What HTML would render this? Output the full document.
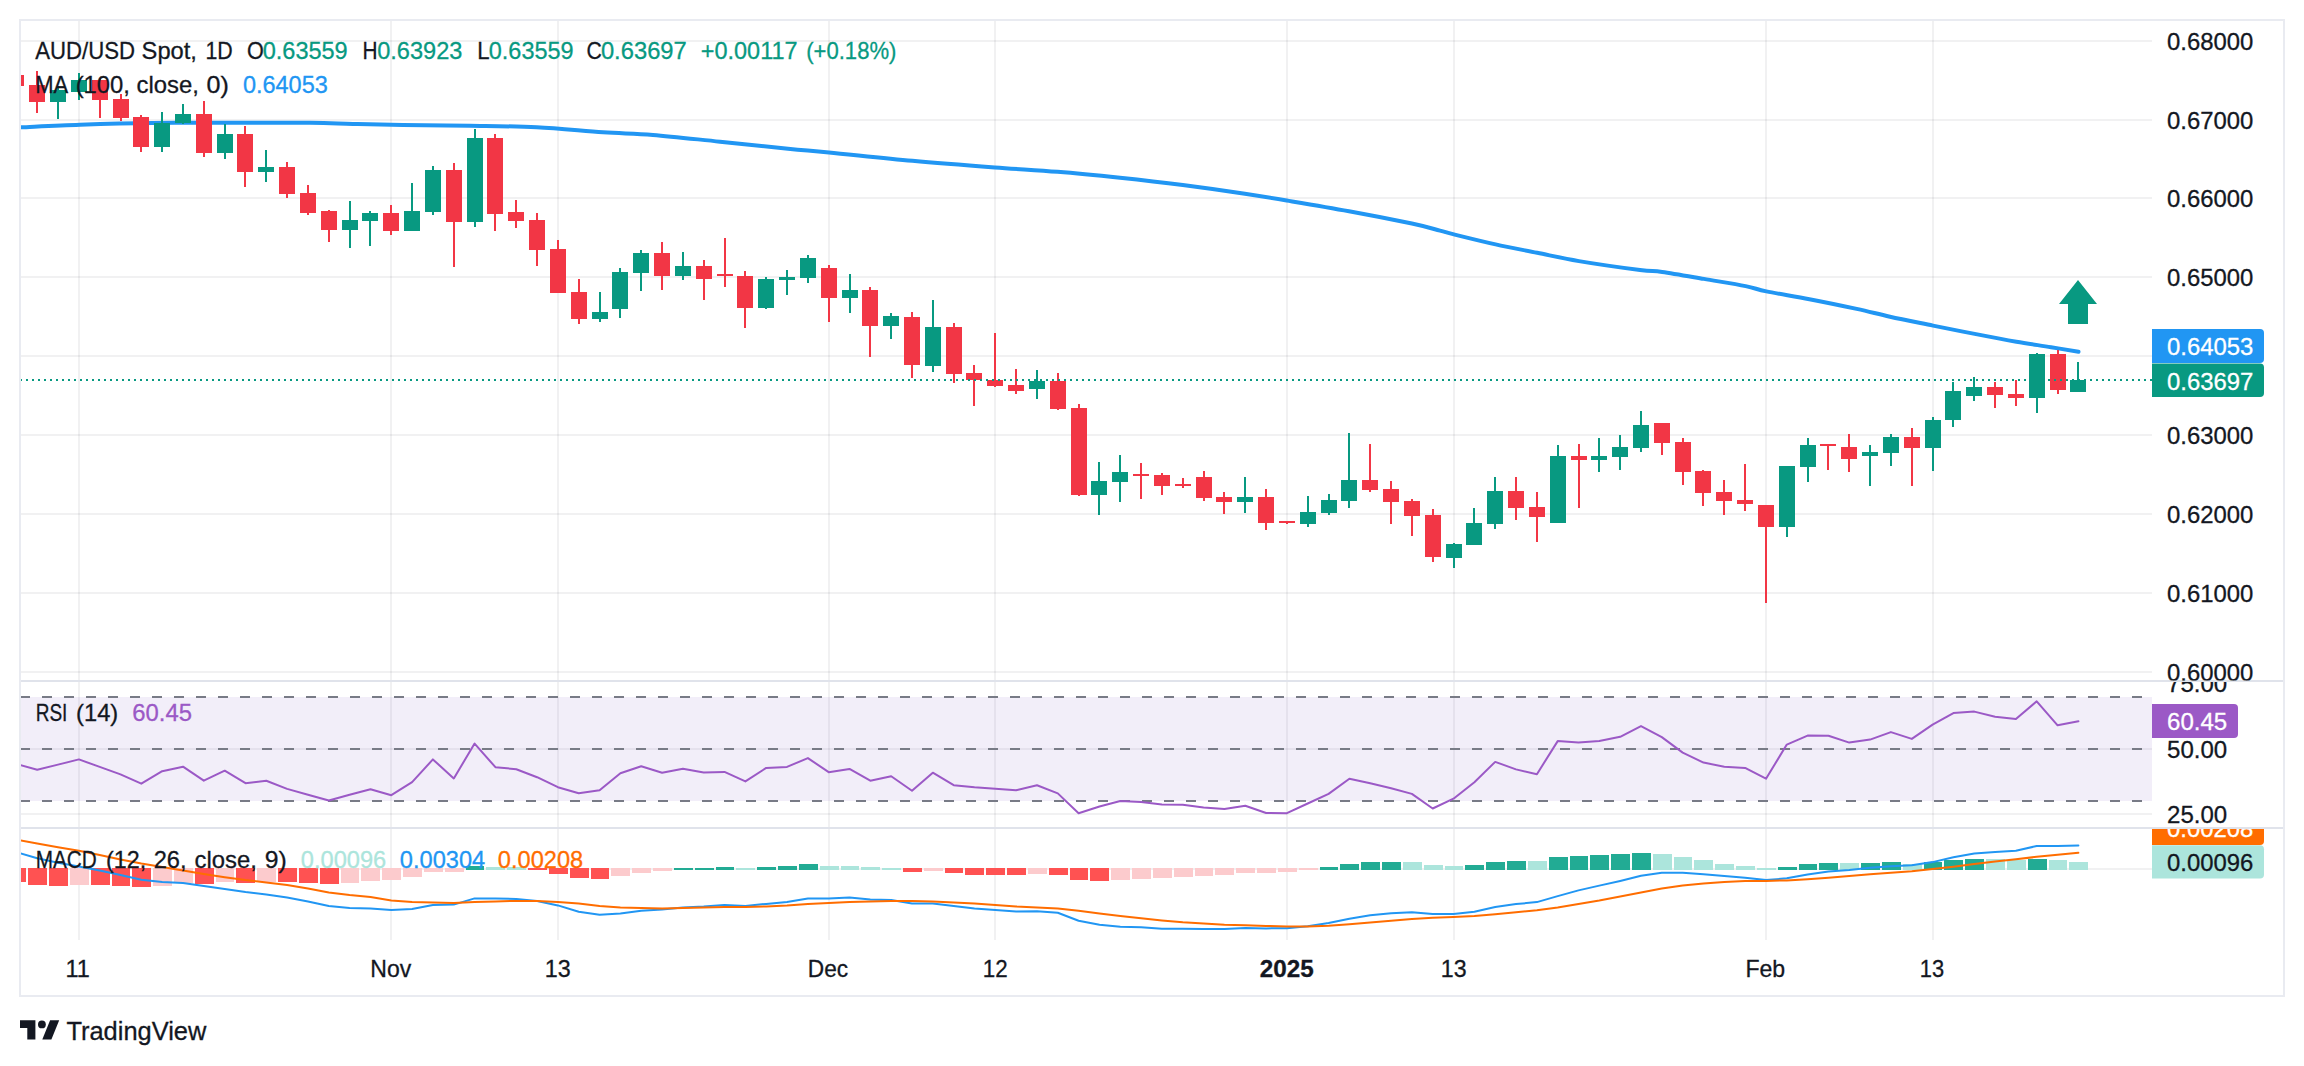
<!DOCTYPE html>
<html lang="en"><head><meta charset="utf-8"><title>AUD/USD Spot, 1D</title>
<style>html,body{margin:0;padding:0;background:#fff;width:2304px;height:1066px;overflow:hidden}</style>
</head><body>
<svg width="2304" height="1066" viewBox="0 0 2304 1066" style="position:absolute;left:0;top:0;display:block" font-family='"Liberation Sans", sans-serif' font-size="24.5" fill="#131722">
<rect width="2304" height="1066" fill="#fff"/>
<defs>
<clipPath id="cm"><rect x="21" y="21" width="2131" height="659"/></clipPath>
<clipPath id="cr"><rect x="21" y="682" width="2131" height="145"/></clipPath>
<clipPath id="cd"><rect x="21" y="829" width="2131" height="111"/></clipPath>
<clipPath id="am"><rect x="2152" y="21" width="132" height="659.5"/></clipPath>
<clipPath id="ar"><rect x="2152" y="682" width="132" height="145"/></clipPath>
<clipPath id="ad"><rect x="2152" y="829" width="132" height="111"/></clipPath>
</defs>
<g fill="rgba(42,46,57,0.065)" shape-rendering="crispEdges">
<rect x="21" y="40" width="2131" height="2"/>
<rect x="21" y="119" width="2131" height="2"/>
<rect x="21" y="197" width="2131" height="2"/>
<rect x="21" y="276" width="2131" height="2"/>
<rect x="21" y="355" width="2131" height="2"/>
<rect x="21" y="434" width="2131" height="2"/>
<rect x="21" y="513" width="2131" height="2"/>
<rect x="21" y="592" width="2131" height="2"/>
<rect x="21" y="671" width="2131" height="2"/>
<rect x="21" y="748" width="2131" height="2"/>
<rect x="21" y="813" width="2131" height="2"/>
<rect x="21" y="868" width="2131" height="2"/>
<rect x="78" y="21" width="2" height="919"/>
<rect x="390" y="21" width="2" height="919"/>
<rect x="557" y="21" width="2" height="919"/>
<rect x="828" y="21" width="2" height="919"/>
<rect x="994" y="21" width="2" height="919"/>
<rect x="1286" y="21" width="2" height="919"/>
<rect x="1453" y="21" width="2" height="919"/>
<rect x="1765" y="21" width="2" height="919"/>
<rect x="1932" y="21" width="2" height="919"/>
</g>
<rect x="21" y="697" width="2131" height="104" fill="rgba(126,87,194,0.1)"/>
<g stroke="#787b86" stroke-width="2" stroke-dasharray="10,12" shape-rendering="crispEdges">
<line x1="20" y1="697" x2="2152" y2="697"/>
<line x1="20" y1="749" x2="2152" y2="749"/>
<line x1="20" y1="801" x2="2152" y2="801"/>
</g>
<polyline clip-path="url(#cr)" fill="none" stroke="#9b59c6" stroke-width="2" stroke-linejoin="round" stroke-linecap="round" points="20.5,765.1 37.2,769.7 58.0,764.6 78.9,759.4 99.7,766.9 120.5,774.4 141.3,783.7 162.2,771.2 183.0,766.7 203.8,780.7 224.7,770.7 245.5,783.2 266.3,780.7 287.1,788.9 308.0,794.7 328.8,800.5 349.6,794.7 370.5,789.2 391.3,795.2 412.1,782.2 432.9,759.4 453.8,778.4 474.6,743.6 495.4,767.2 516.3,769.2 537.1,777.2 557.9,787.2 578.7,793.2 599.6,790.2 620.4,773.2 641.2,766.2 662.1,772.7 682.9,768.7 703.7,772.4 724.5,771.9 745.4,781.4 766.2,767.9 787.0,766.9 807.9,758.1 828.7,772.2 849.5,768.9 870.3,780.7 891.2,776.2 912.0,790.7 932.8,772.7 953.7,785.2 974.5,787.2 995.3,788.7 1016.1,790.2 1037.0,785.2 1057.8,793.4 1078.6,813.2 1099.5,806.5 1120.3,801.0 1141.1,802.0 1161.9,804.5 1182.8,804.7 1203.6,807.5 1224.4,809.0 1245.3,805.7 1266.1,813.0 1286.9,813.2 1307.7,803.5 1328.6,793.9 1349.4,778.7 1370.2,783.2 1391.1,788.2 1411.9,793.9 1432.7,808.5 1453.5,798.7 1474.4,782.2 1495.2,761.9 1516.0,769.4 1536.9,774.2 1557.7,741.1 1578.5,742.6 1599.3,741.1 1620.2,736.8 1641.0,726.1 1661.8,737.1 1682.7,752.6 1703.5,762.6 1724.3,766.7 1745.1,767.9 1766.0,778.7 1786.8,744.6 1807.6,735.6 1828.5,735.8 1849.3,742.6 1870.1,739.6 1890.9,732.1 1911.8,738.9 1932.6,724.6 1953.4,713.1 1974.3,711.6 1995.1,716.8 2015.9,719.1 2036.7,701.3 2057.6,725.3 2078.4,721.3"/>
<g clip-path="url(#cd)" shape-rendering="crispEdges">
<rect x="7" y="868" width="19" height="14" fill="#ff5252"/>
<rect x="28" y="868" width="19" height="17" fill="#ff5252"/>
<rect x="49" y="868" width="19" height="18" fill="#ff5252"/>
<rect x="70" y="868" width="19" height="17" fill="#fccbcd"/>
<rect x="91" y="868" width="19" height="17" fill="#ff5252"/>
<rect x="112" y="868" width="18" height="18" fill="#ff5252"/>
<rect x="132" y="868" width="19" height="19" fill="#ff5252"/>
<rect x="153" y="868" width="19" height="18" fill="#fccbcd"/>
<rect x="174" y="868" width="19" height="15" fill="#fccbcd"/>
<rect x="195" y="868" width="19" height="16" fill="#ff5252"/>
<rect x="216" y="868" width="18" height="14" fill="#fccbcd"/>
<rect x="236" y="868" width="19" height="15" fill="#ff5252"/>
<rect x="257" y="868" width="19" height="14" fill="#fccbcd"/>
<rect x="278" y="868" width="19" height="14" fill="#ff5252"/>
<rect x="299" y="868" width="19" height="15" fill="#ff5252"/>
<rect x="320" y="868" width="19" height="16" fill="#ff5252"/>
<rect x="341" y="868" width="18" height="15" fill="#fccbcd"/>
<rect x="361" y="868" width="19" height="13" fill="#fccbcd"/>
<rect x="382" y="868" width="19" height="12" fill="#fccbcd"/>
<rect x="403" y="868" width="19" height="9" fill="#fccbcd"/>
<rect x="424" y="868" width="19" height="4" fill="#fccbcd"/>
<rect x="445" y="868" width="19" height="4" fill="#fccbcd"/>
<rect x="466" y="866" width="18" height="4" fill="#22ab94"/>
<rect x="486" y="867" width="19" height="3" fill="#ace5dc"/>
<rect x="507" y="867" width="19" height="3" fill="#ace5dc"/>
<rect x="528" y="868" width="19" height="2" fill="#ff5252"/>
<rect x="549" y="868" width="19" height="6" fill="#ff5252"/>
<rect x="570" y="868" width="19" height="10" fill="#ff5252"/>
<rect x="591" y="868" width="18" height="11" fill="#ff5252"/>
<rect x="611" y="868" width="19" height="8" fill="#fccbcd"/>
<rect x="632" y="868" width="19" height="5" fill="#fccbcd"/>
<rect x="653" y="868" width="19" height="3" fill="#fccbcd"/>
<rect x="674" y="868" width="19" height="2" fill="#22ab94"/>
<rect x="695" y="868" width="19" height="2" fill="#22ab94"/>
<rect x="716" y="867" width="18" height="3" fill="#22ab94"/>
<rect x="736" y="868" width="19" height="2" fill="#ace5dc"/>
<rect x="757" y="867" width="19" height="3" fill="#22ab94"/>
<rect x="778" y="866" width="19" height="4" fill="#22ab94"/>
<rect x="799" y="864" width="19" height="6" fill="#22ab94"/>
<rect x="820" y="866" width="19" height="4" fill="#ace5dc"/>
<rect x="841" y="866" width="18" height="4" fill="#ace5dc"/>
<rect x="861" y="867" width="19" height="3" fill="#ace5dc"/>
<rect x="882" y="868" width="19" height="2" fill="#ace5dc"/>
<rect x="903" y="868" width="19" height="4" fill="#ff5252"/>
<rect x="924" y="868" width="19" height="3" fill="#fccbcd"/>
<rect x="945" y="868" width="18" height="5" fill="#ff5252"/>
<rect x="965" y="868" width="19" height="7" fill="#ff5252"/>
<rect x="986" y="868" width="19" height="7" fill="#ff5252"/>
<rect x="1007" y="868" width="19" height="7" fill="#ff5252"/>
<rect x="1028" y="868" width="19" height="6" fill="#fccbcd"/>
<rect x="1049" y="868" width="19" height="7" fill="#ff5252"/>
<rect x="1070" y="868" width="18" height="12" fill="#ff5252"/>
<rect x="1090" y="868" width="19" height="13" fill="#ff5252"/>
<rect x="1111" y="868" width="19" height="12" fill="#fccbcd"/>
<rect x="1132" y="868" width="19" height="11" fill="#fccbcd"/>
<rect x="1153" y="868" width="19" height="10" fill="#fccbcd"/>
<rect x="1174" y="868" width="19" height="9" fill="#fccbcd"/>
<rect x="1195" y="868" width="18" height="8" fill="#fccbcd"/>
<rect x="1215" y="868" width="19" height="7" fill="#fccbcd"/>
<rect x="1236" y="868" width="19" height="5" fill="#fccbcd"/>
<rect x="1257" y="868" width="19" height="5" fill="#fccbcd"/>
<rect x="1278" y="868" width="19" height="4" fill="#fccbcd"/>
<rect x="1299" y="868" width="19" height="2" fill="#fccbcd"/>
<rect x="1320" y="867" width="18" height="3" fill="#22ab94"/>
<rect x="1340" y="864" width="19" height="6" fill="#22ab94"/>
<rect x="1361" y="862" width="19" height="8" fill="#22ab94"/>
<rect x="1382" y="862" width="19" height="8" fill="#22ab94"/>
<rect x="1403" y="862" width="19" height="8" fill="#ace5dc"/>
<rect x="1424" y="865" width="19" height="5" fill="#ace5dc"/>
<rect x="1445" y="866" width="18" height="4" fill="#ace5dc"/>
<rect x="1465" y="865" width="19" height="5" fill="#22ab94"/>
<rect x="1486" y="862" width="19" height="8" fill="#22ab94"/>
<rect x="1507" y="861" width="19" height="9" fill="#22ab94"/>
<rect x="1528" y="861" width="19" height="9" fill="#ace5dc"/>
<rect x="1549" y="857" width="19" height="13" fill="#22ab94"/>
<rect x="1570" y="856" width="18" height="14" fill="#22ab94"/>
<rect x="1590" y="855" width="19" height="15" fill="#22ab94"/>
<rect x="1611" y="854" width="19" height="16" fill="#22ab94"/>
<rect x="1632" y="853" width="19" height="17" fill="#22ab94"/>
<rect x="1653" y="854" width="19" height="16" fill="#ace5dc"/>
<rect x="1674" y="857" width="18" height="13" fill="#ace5dc"/>
<rect x="1694" y="860" width="19" height="10" fill="#ace5dc"/>
<rect x="1715" y="864" width="19" height="6" fill="#ace5dc"/>
<rect x="1736" y="866" width="19" height="4" fill="#ace5dc"/>
<rect x="1757" y="868" width="19" height="2" fill="#ace5dc"/>
<rect x="1778" y="867" width="19" height="3" fill="#22ab94"/>
<rect x="1799" y="864" width="18" height="6" fill="#22ab94"/>
<rect x="1819" y="863" width="19" height="7" fill="#22ab94"/>
<rect x="1840" y="863" width="19" height="7" fill="#ace5dc"/>
<rect x="1861" y="863" width="19" height="7" fill="#22ab94"/>
<rect x="1882" y="862" width="19" height="8" fill="#22ab94"/>
<rect x="1903" y="864" width="19" height="6" fill="#ace5dc"/>
<rect x="1924" y="862" width="18" height="8" fill="#22ab94"/>
<rect x="1944" y="860" width="19" height="10" fill="#22ab94"/>
<rect x="1965" y="859" width="19" height="11" fill="#22ab94"/>
<rect x="1986" y="859" width="19" height="11" fill="#ace5dc"/>
<rect x="2007" y="860" width="19" height="10" fill="#ace5dc"/>
<rect x="2028" y="859" width="19" height="11" fill="#22ab94"/>
<rect x="2049" y="860" width="18" height="10" fill="#ace5dc"/>
<rect x="2069" y="862" width="19" height="8" fill="#ace5dc"/>
</g>
<polyline clip-path="url(#cd)" fill="none" stroke="#2196f3" stroke-width="2" stroke-linejoin="round" stroke-linecap="round" points="20.5,853.3 37.2,858.3 58.0,862.8 78.9,866.6 99.7,870.6 120.5,875.1 141.3,879.8 162.2,882.1 183.0,882.9 203.8,886.1 224.7,888.9 245.5,892.1 266.3,894.4 287.1,897.4 308.0,901.4 328.8,906.1 349.6,907.9 370.5,908.4 391.3,909.9 412.1,908.9 432.9,904.9 453.8,904.6 474.6,898.4 495.4,898.4 516.3,898.9 537.1,900.9 557.9,905.4 578.7,911.7 599.6,914.7 620.4,913.4 641.2,910.7 662.1,909.4 682.9,907.4 703.7,906.4 724.5,904.9 745.4,905.9 766.2,903.9 787.0,902.1 807.9,898.6 828.7,898.6 849.5,897.6 870.3,899.4 891.2,899.9 912.0,903.4 932.8,903.4 953.7,905.9 974.5,908.4 995.3,909.9 1016.1,911.4 1037.0,911.2 1057.8,912.7 1078.6,920.7 1099.5,924.7 1120.3,926.7 1141.1,927.2 1161.9,928.7 1182.8,928.7 1203.6,928.9 1224.4,928.9 1245.3,927.9 1266.1,928.4 1286.9,928.2 1307.7,926.2 1328.6,922.9 1349.4,918.7 1370.2,915.2 1391.1,913.2 1411.9,912.2 1432.7,913.9 1453.5,913.9 1474.4,911.7 1495.2,907.1 1516.0,904.1 1536.9,902.1 1557.7,896.1 1578.5,890.4 1599.3,885.6 1620.2,880.9 1641.0,875.8 1661.8,872.8 1682.7,872.8 1703.5,874.3 1724.3,876.1 1745.1,877.8 1766.0,880.1 1786.8,878.3 1807.6,874.6 1828.5,871.6 1849.3,870.1 1870.1,867.8 1890.9,866.3 1911.8,865.3 1932.6,862.1 1953.4,857.3 1974.3,853.6 1995.1,852.1 2015.9,850.8 2036.7,846.0 2057.6,846.0 2078.4,845.5"/>
<polyline clip-path="url(#cd)" fill="none" stroke="#ff6d00" stroke-width="2" stroke-linejoin="round" stroke-linecap="round" points="20.5,840.5 37.2,843.5 58.0,847.3 78.9,850.8 99.7,855.1 120.5,859.6 141.3,863.6 162.2,867.1 183.0,870.6 203.8,874.1 224.7,877.3 245.5,880.1 266.3,882.4 287.1,884.9 308.0,888.4 328.8,892.4 349.6,894.9 370.5,896.9 391.3,900.4 412.1,902.1 432.9,902.6 453.8,902.9 474.6,902.1 495.4,901.4 516.3,900.9 537.1,900.9 557.9,901.9 578.7,903.6 599.6,905.9 620.4,907.4 641.2,908.1 662.1,908.4 682.9,908.1 703.7,907.6 724.5,907.1 745.4,906.9 766.2,906.4 787.0,905.6 807.9,904.1 828.7,903.1 849.5,901.9 870.3,901.4 891.2,901.1 912.0,901.1 932.8,901.6 953.7,902.4 974.5,903.6 995.3,904.9 1016.1,906.4 1037.0,907.4 1057.8,908.4 1078.6,910.7 1099.5,913.4 1120.3,915.9 1141.1,918.2 1161.9,920.4 1182.8,922.2 1203.6,923.4 1224.4,924.7 1245.3,925.2 1266.1,925.9 1286.9,926.4 1307.7,926.4 1328.6,925.7 1349.4,924.2 1370.2,922.4 1391.1,920.7 1411.9,918.9 1432.7,917.7 1453.5,916.9 1474.4,915.9 1495.2,914.2 1516.0,912.2 1536.9,910.2 1557.7,907.4 1578.5,903.9 1599.3,900.4 1620.2,896.4 1641.0,892.4 1661.8,888.6 1682.7,885.6 1703.5,883.4 1724.3,881.9 1745.1,881.1 1766.0,880.9 1786.8,880.4 1807.6,879.3 1828.5,877.8 1849.3,876.1 1870.1,874.3 1890.9,872.8 1911.8,871.3 1932.6,869.1 1953.4,866.8 1974.3,864.1 1995.1,861.6 2015.9,859.3 2036.7,856.8 2057.6,854.8 2078.4,852.8"/>
<path clip-path="url(#cm)" d="M20.0,127.3 C30.0,126.9 57.8,125.4 80.0,124.7 C102.2,124.0 128.6,123.3 153.0,123.0 C177.4,122.7 200.5,122.8 226.7,122.7 C252.9,122.7 288.9,122.5 310.0,122.7 C331.1,122.9 337.5,123.6 353.0,124.0 C368.5,124.4 383.5,124.7 403.0,125.0 C422.5,125.3 447.7,125.3 470.0,125.7 C492.3,126.1 514.5,126.2 536.7,127.3 C558.9,128.4 583.6,131.0 603.0,132.3 C622.4,133.6 633.5,133.3 653.0,134.9 C672.5,136.5 697.5,139.4 720.0,141.7 C742.5,144.0 769.9,146.9 788.0,148.7 C806.1,150.5 808.2,150.4 828.9,152.4 C849.6,154.4 884.8,158.3 912.4,160.8 C940.0,163.3 970.6,165.6 994.8,167.4 C1019.0,169.2 1036.7,170.1 1057.6,171.8 C1078.5,173.5 1099.1,175.6 1120.0,177.8 C1140.9,180.0 1162.0,182.4 1182.8,185.1 C1203.6,187.8 1227.6,191.2 1244.9,193.8 C1262.2,196.4 1269.4,197.6 1286.7,200.5 C1304.0,203.4 1328.1,207.4 1349.0,211.2 C1369.9,215.0 1396.7,220.3 1411.9,223.5 C1427.1,226.7 1433.0,228.8 1440.0,230.6 C1447.0,232.4 1444.6,232.1 1453.9,234.4 C1463.2,236.7 1481.7,241.3 1495.6,244.4 C1509.5,247.5 1523.3,250.0 1537.2,252.8 C1551.1,255.6 1561.8,258.2 1578.9,261.1 C1596.0,264.0 1626.1,268.2 1640.0,270.0 C1653.9,271.8 1651.5,270.4 1662.2,271.9 C1672.9,273.4 1690.0,276.5 1703.9,278.9 C1717.8,281.3 1735.2,284.0 1745.6,286.1 C1756.0,288.2 1755.8,289.2 1766.4,291.4 C1777.0,293.6 1794.4,296.3 1809.4,299.2 C1824.5,302.1 1843.3,306.0 1856.7,308.9 C1870.1,311.8 1877.3,313.9 1890.0,316.7 C1902.7,319.5 1918.9,322.7 1933.0,325.6 C1947.1,328.5 1960.8,331.2 1974.7,333.9 C1988.6,336.6 2003.7,339.5 2016.4,341.7 C2029.1,343.9 2040.7,345.5 2051.0,347.2 C2061.3,348.9 2073.9,351.0 2078.5,351.8" fill="none" stroke="#2196f3" stroke-width="4" stroke-linecap="round" stroke-linejoin="round"/>
<g clip-path="url(#cm)" shape-rendering="crispEdges">
<rect x="15" y="70" width="2" height="20" fill="#f23645"/>
<rect x="8" y="75" width="16" height="11" fill="#f23645"/>
<rect x="36" y="71" width="2" height="42" fill="#f23645"/>
<rect x="29" y="85" width="16" height="17" fill="#f23645"/>
<rect x="57" y="86" width="2" height="33" fill="#089981"/>
<rect x="50" y="90" width="16" height="12" fill="#089981"/>
<rect x="78" y="73" width="2" height="27" fill="#089981"/>
<rect x="71" y="80" width="16" height="12" fill="#089981"/>
<rect x="99" y="78" width="2" height="40" fill="#f23645"/>
<rect x="92" y="80" width="16" height="20" fill="#f23645"/>
<rect x="120" y="94" width="2" height="27" fill="#f23645"/>
<rect x="113" y="99" width="16" height="19" fill="#f23645"/>
<rect x="140" y="115" width="2" height="37" fill="#f23645"/>
<rect x="133" y="117" width="16" height="30" fill="#f23645"/>
<rect x="161" y="112" width="2" height="40" fill="#089981"/>
<rect x="154" y="123" width="16" height="24" fill="#089981"/>
<rect x="182" y="104" width="2" height="20" fill="#089981"/>
<rect x="175" y="114" width="16" height="9" fill="#089981"/>
<rect x="203" y="101" width="2" height="56" fill="#f23645"/>
<rect x="196" y="114" width="16" height="39" fill="#f23645"/>
<rect x="224" y="124" width="2" height="35" fill="#089981"/>
<rect x="217" y="134" width="16" height="19" fill="#089981"/>
<rect x="244" y="126" width="2" height="61" fill="#f23645"/>
<rect x="237" y="134" width="16" height="38" fill="#f23645"/>
<rect x="265" y="150" width="2" height="32" fill="#089981"/>
<rect x="258" y="167" width="16" height="5" fill="#089981"/>
<rect x="286" y="162" width="2" height="36" fill="#f23645"/>
<rect x="279" y="167" width="16" height="27" fill="#f23645"/>
<rect x="307" y="185" width="2" height="30" fill="#f23645"/>
<rect x="300" y="193" width="16" height="20" fill="#f23645"/>
<rect x="328" y="210" width="2" height="32" fill="#f23645"/>
<rect x="321" y="211" width="16" height="19" fill="#f23645"/>
<rect x="349" y="201" width="2" height="47" fill="#089981"/>
<rect x="342" y="220" width="16" height="10" fill="#089981"/>
<rect x="369" y="211" width="2" height="35" fill="#089981"/>
<rect x="362" y="213" width="16" height="8" fill="#089981"/>
<rect x="390" y="205" width="2" height="30" fill="#f23645"/>
<rect x="383" y="213" width="16" height="18" fill="#f23645"/>
<rect x="411" y="183" width="2" height="48" fill="#089981"/>
<rect x="404" y="211" width="16" height="20" fill="#089981"/>
<rect x="432" y="166" width="2" height="49" fill="#089981"/>
<rect x="425" y="170" width="16" height="42" fill="#089981"/>
<rect x="453" y="163" width="2" height="104" fill="#f23645"/>
<rect x="446" y="170" width="16" height="52" fill="#f23645"/>
<rect x="474" y="129" width="2" height="98" fill="#089981"/>
<rect x="467" y="138" width="16" height="84" fill="#089981"/>
<rect x="494" y="134" width="2" height="97" fill="#f23645"/>
<rect x="487" y="138" width="16" height="76" fill="#f23645"/>
<rect x="515" y="200" width="2" height="28" fill="#f23645"/>
<rect x="508" y="212" width="16" height="9" fill="#f23645"/>
<rect x="536" y="213" width="2" height="53" fill="#f23645"/>
<rect x="529" y="220" width="16" height="30" fill="#f23645"/>
<rect x="557" y="240" width="2" height="53" fill="#f23645"/>
<rect x="550" y="249" width="16" height="44" fill="#f23645"/>
<rect x="578" y="279" width="2" height="45" fill="#f23645"/>
<rect x="571" y="292" width="16" height="27" fill="#f23645"/>
<rect x="599" y="292" width="2" height="30" fill="#089981"/>
<rect x="592" y="312" width="16" height="7" fill="#089981"/>
<rect x="619" y="268" width="2" height="50" fill="#089981"/>
<rect x="612" y="272" width="16" height="37" fill="#089981"/>
<rect x="640" y="250" width="2" height="41" fill="#089981"/>
<rect x="633" y="253" width="16" height="20" fill="#089981"/>
<rect x="661" y="242" width="2" height="48" fill="#f23645"/>
<rect x="654" y="253" width="16" height="23" fill="#f23645"/>
<rect x="682" y="252" width="2" height="28" fill="#089981"/>
<rect x="675" y="266" width="16" height="10" fill="#089981"/>
<rect x="703" y="260" width="2" height="40" fill="#f23645"/>
<rect x="696" y="266" width="16" height="13" fill="#f23645"/>
<rect x="724" y="238" width="2" height="49" fill="#f23645"/>
<rect x="717" y="274" width="16" height="2" fill="#f23645"/>
<rect x="744" y="271" width="2" height="57" fill="#f23645"/>
<rect x="737" y="276" width="16" height="32" fill="#f23645"/>
<rect x="765" y="277" width="2" height="32" fill="#089981"/>
<rect x="758" y="279" width="16" height="29" fill="#089981"/>
<rect x="786" y="270" width="2" height="25" fill="#089981"/>
<rect x="779" y="277" width="16" height="3" fill="#089981"/>
<rect x="807" y="255" width="2" height="28" fill="#089981"/>
<rect x="800" y="258" width="16" height="20" fill="#089981"/>
<rect x="828" y="265" width="2" height="57" fill="#f23645"/>
<rect x="821" y="268" width="16" height="30" fill="#f23645"/>
<rect x="849" y="274" width="2" height="39" fill="#089981"/>
<rect x="842" y="290" width="16" height="8" fill="#089981"/>
<rect x="869" y="287" width="2" height="70" fill="#f23645"/>
<rect x="862" y="290" width="16" height="36" fill="#f23645"/>
<rect x="890" y="313" width="2" height="26" fill="#089981"/>
<rect x="883" y="316" width="16" height="10" fill="#089981"/>
<rect x="911" y="312" width="2" height="66" fill="#f23645"/>
<rect x="904" y="317" width="16" height="48" fill="#f23645"/>
<rect x="932" y="300" width="2" height="72" fill="#089981"/>
<rect x="925" y="327" width="16" height="39" fill="#089981"/>
<rect x="953" y="323" width="2" height="60" fill="#f23645"/>
<rect x="946" y="327" width="16" height="47" fill="#f23645"/>
<rect x="973" y="365" width="2" height="41" fill="#f23645"/>
<rect x="966" y="373" width="16" height="7" fill="#f23645"/>
<rect x="994" y="333" width="2" height="54" fill="#f23645"/>
<rect x="987" y="380" width="16" height="6" fill="#f23645"/>
<rect x="1015" y="369" width="2" height="25" fill="#f23645"/>
<rect x="1008" y="385" width="16" height="6" fill="#f23645"/>
<rect x="1036" y="370" width="2" height="29" fill="#089981"/>
<rect x="1029" y="381" width="16" height="8" fill="#089981"/>
<rect x="1057" y="373" width="2" height="37" fill="#f23645"/>
<rect x="1050" y="381" width="16" height="28" fill="#f23645"/>
<rect x="1078" y="404" width="2" height="92" fill="#f23645"/>
<rect x="1071" y="408" width="16" height="87" fill="#f23645"/>
<rect x="1098" y="462" width="2" height="53" fill="#089981"/>
<rect x="1091" y="481" width="16" height="14" fill="#089981"/>
<rect x="1119" y="455" width="2" height="47" fill="#089981"/>
<rect x="1112" y="472" width="16" height="10" fill="#089981"/>
<rect x="1140" y="463" width="2" height="36" fill="#f23645"/>
<rect x="1133" y="474" width="16" height="2" fill="#f23645"/>
<rect x="1161" y="473" width="2" height="22" fill="#f23645"/>
<rect x="1154" y="475" width="16" height="11" fill="#f23645"/>
<rect x="1182" y="478" width="2" height="10" fill="#f23645"/>
<rect x="1175" y="484" width="16" height="2" fill="#f23645"/>
<rect x="1203" y="471" width="2" height="30" fill="#f23645"/>
<rect x="1196" y="477" width="16" height="21" fill="#f23645"/>
<rect x="1223" y="492" width="2" height="22" fill="#f23645"/>
<rect x="1216" y="497" width="16" height="5" fill="#f23645"/>
<rect x="1244" y="477" width="2" height="36" fill="#089981"/>
<rect x="1237" y="497" width="16" height="5" fill="#089981"/>
<rect x="1265" y="489" width="2" height="41" fill="#f23645"/>
<rect x="1258" y="497" width="16" height="26" fill="#f23645"/>
<rect x="1286" y="521" width="2" height="3" fill="#f23645"/>
<rect x="1279" y="521" width="16" height="2" fill="#f23645"/>
<rect x="1307" y="496" width="2" height="31" fill="#089981"/>
<rect x="1300" y="512" width="16" height="12" fill="#089981"/>
<rect x="1328" y="494" width="2" height="21" fill="#089981"/>
<rect x="1321" y="500" width="16" height="13" fill="#089981"/>
<rect x="1348" y="433" width="2" height="75" fill="#089981"/>
<rect x="1341" y="480" width="16" height="21" fill="#089981"/>
<rect x="1369" y="444" width="2" height="48" fill="#f23645"/>
<rect x="1362" y="480" width="16" height="10" fill="#f23645"/>
<rect x="1390" y="481" width="2" height="43" fill="#f23645"/>
<rect x="1383" y="489" width="16" height="13" fill="#f23645"/>
<rect x="1411" y="499" width="2" height="37" fill="#f23645"/>
<rect x="1404" y="501" width="16" height="15" fill="#f23645"/>
<rect x="1432" y="509" width="2" height="53" fill="#f23645"/>
<rect x="1425" y="515" width="16" height="42" fill="#f23645"/>
<rect x="1453" y="543" width="2" height="25" fill="#089981"/>
<rect x="1446" y="544" width="16" height="14" fill="#089981"/>
<rect x="1473" y="508" width="2" height="37" fill="#089981"/>
<rect x="1466" y="523" width="16" height="22" fill="#089981"/>
<rect x="1494" y="477" width="2" height="52" fill="#089981"/>
<rect x="1487" y="491" width="16" height="33" fill="#089981"/>
<rect x="1515" y="477" width="2" height="43" fill="#f23645"/>
<rect x="1508" y="491" width="16" height="17" fill="#f23645"/>
<rect x="1536" y="492" width="2" height="50" fill="#f23645"/>
<rect x="1529" y="507" width="16" height="10" fill="#f23645"/>
<rect x="1557" y="445" width="2" height="78" fill="#089981"/>
<rect x="1550" y="456" width="16" height="67" fill="#089981"/>
<rect x="1578" y="444" width="2" height="64" fill="#f23645"/>
<rect x="1571" y="456" width="16" height="4" fill="#f23645"/>
<rect x="1598" y="438" width="2" height="34" fill="#089981"/>
<rect x="1591" y="456" width="16" height="4" fill="#089981"/>
<rect x="1619" y="435" width="2" height="35" fill="#089981"/>
<rect x="1612" y="447" width="16" height="10" fill="#089981"/>
<rect x="1640" y="411" width="2" height="41" fill="#089981"/>
<rect x="1633" y="425" width="16" height="23" fill="#089981"/>
<rect x="1661" y="423" width="2" height="32" fill="#f23645"/>
<rect x="1654" y="423" width="16" height="20" fill="#f23645"/>
<rect x="1682" y="438" width="2" height="47" fill="#f23645"/>
<rect x="1675" y="442" width="16" height="30" fill="#f23645"/>
<rect x="1702" y="470" width="2" height="36" fill="#f23645"/>
<rect x="1695" y="471" width="16" height="22" fill="#f23645"/>
<rect x="1723" y="480" width="2" height="35" fill="#f23645"/>
<rect x="1716" y="492" width="16" height="9" fill="#f23645"/>
<rect x="1744" y="464" width="2" height="47" fill="#f23645"/>
<rect x="1737" y="500" width="16" height="4" fill="#f23645"/>
<rect x="1765" y="505" width="2" height="98" fill="#f23645"/>
<rect x="1758" y="505" width="16" height="22" fill="#f23645"/>
<rect x="1786" y="466" width="2" height="71" fill="#089981"/>
<rect x="1779" y="466" width="16" height="61" fill="#089981"/>
<rect x="1807" y="438" width="2" height="44" fill="#089981"/>
<rect x="1800" y="445" width="16" height="22" fill="#089981"/>
<rect x="1827" y="444" width="2" height="26" fill="#f23645"/>
<rect x="1820" y="444" width="16" height="2" fill="#f23645"/>
<rect x="1848" y="434" width="2" height="38" fill="#f23645"/>
<rect x="1841" y="447" width="16" height="12" fill="#f23645"/>
<rect x="1869" y="445" width="2" height="41" fill="#089981"/>
<rect x="1862" y="452" width="16" height="4" fill="#089981"/>
<rect x="1890" y="434" width="2" height="32" fill="#089981"/>
<rect x="1883" y="437" width="16" height="16" fill="#089981"/>
<rect x="1911" y="428" width="2" height="58" fill="#f23645"/>
<rect x="1904" y="437" width="16" height="11" fill="#f23645"/>
<rect x="1932" y="417" width="2" height="54" fill="#089981"/>
<rect x="1925" y="420" width="16" height="28" fill="#089981"/>
<rect x="1952" y="382" width="2" height="45" fill="#089981"/>
<rect x="1945" y="391" width="16" height="29" fill="#089981"/>
<rect x="1973" y="377" width="2" height="24" fill="#089981"/>
<rect x="1966" y="387" width="16" height="9" fill="#089981"/>
<rect x="1994" y="382" width="2" height="26" fill="#f23645"/>
<rect x="1987" y="387" width="16" height="8" fill="#f23645"/>
<rect x="2015" y="380" width="2" height="26" fill="#f23645"/>
<rect x="2008" y="394" width="16" height="4" fill="#f23645"/>
<rect x="2036" y="353" width="2" height="60" fill="#089981"/>
<rect x="2029" y="354" width="16" height="44" fill="#089981"/>
<rect x="2057" y="350" width="2" height="44" fill="#f23645"/>
<rect x="2050" y="354" width="16" height="36" fill="#f23645"/>
<rect x="2077" y="362" width="2" height="30" fill="#089981"/>
<rect x="2070" y="380" width="16" height="12" fill="#089981"/>
</g>
<line x1="20" y1="380" x2="2152" y2="380" stroke="#089981" stroke-width="2" stroke-dasharray="2,4" shape-rendering="crispEdges" clip-path="url(#cm)"/>
<path d="M2078,280 L2097,304 L2088,304 L2088,324 L2068,324 L2068,304 L2059,304 Z" fill="#089981"/>
<g fill="#e0e3eb" shape-rendering="crispEdges">
<rect x="20" y="680" width="2264" height="2"/>
<rect x="20" y="827" width="2264" height="2"/>
</g>
<rect x="20" y="20" width="2264" height="976" fill="none" stroke="#e9ebf1" stroke-width="2" shape-rendering="crispEdges"/>
<text x="2167" y="50.1" textLength="86.3" lengthAdjust="spacingAndGlyphs" stroke="#131722" stroke-width="0.3" clip-path="url(#am)">0.68000</text>
<text x="2167" y="128.6" textLength="86.3" lengthAdjust="spacingAndGlyphs" stroke="#131722" stroke-width="0.3" clip-path="url(#am)">0.67000</text>
<text x="2167" y="206.6" textLength="86.3" lengthAdjust="spacingAndGlyphs" stroke="#131722" stroke-width="0.3" clip-path="url(#am)">0.66000</text>
<text x="2167" y="285.6" textLength="86.3" lengthAdjust="spacingAndGlyphs" stroke="#131722" stroke-width="0.3" clip-path="url(#am)">0.65000</text>
<text x="2167" y="444.1" textLength="86.3" lengthAdjust="spacingAndGlyphs" stroke="#131722" stroke-width="0.3" clip-path="url(#am)">0.63000</text>
<text x="2167" y="523.1" textLength="86.3" lengthAdjust="spacingAndGlyphs" stroke="#131722" stroke-width="0.3" clip-path="url(#am)">0.62000</text>
<text x="2167" y="602.1" textLength="86.3" lengthAdjust="spacingAndGlyphs" stroke="#131722" stroke-width="0.3" clip-path="url(#am)">0.61000</text>
<text x="2167" y="681.1" textLength="86.3" lengthAdjust="spacingAndGlyphs" stroke="#131722" stroke-width="0.3" clip-path="url(#am)">0.60000</text>
<g clip-path="url(#ar)">
<text x="2167" y="692.1" textLength="60.2" lengthAdjust="spacingAndGlyphs" stroke="#131722" stroke-width="0.3">75.00</text>
</g>
<text x="2167" y="758.2" textLength="60.2" lengthAdjust="spacingAndGlyphs" stroke="#131722" stroke-width="0.3">50.00</text>
<text x="2167" y="822.7" textLength="60.2" lengthAdjust="spacingAndGlyphs" stroke="#131722" stroke-width="0.3">25.00</text>
<path d="M2152,329 H2260 Q2264,329 2264,333 V359 Q2264,363 2260,363 H2152 Z" fill="#2196f3"/>
<text x="2167" y="355.1" textLength="86.3" lengthAdjust="spacingAndGlyphs" stroke="#fff" stroke-width="0.3" fill="#fff">0.64053</text>
<path d="M2152,363.5 H2260 Q2264,363.5 2264,367.5 V393.0 Q2264,397.0 2260,397.0 H2152 Z" fill="#089981"/>
<text x="2167" y="389.6" textLength="86.3" lengthAdjust="spacingAndGlyphs" stroke="#fff" stroke-width="0.3" fill="#fff">0.63697</text>
<path d="M2152,704 H2234 Q2238,704 2238,708 V734 Q2238,738 2234,738 H2152 Z" fill="#9b59c6"/>
<text x="2167" y="730.1" textLength="60.2" lengthAdjust="spacingAndGlyphs" stroke="#fff" stroke-width="0.3" fill="#fff">60.45</text>
<g clip-path="url(#ad)">
<path d="M2152,811 H2260 Q2264,811 2264,815 V841 Q2264,845 2260,845 H2152 Z" fill="#ff6d00"/>
<text x="2167" y="836.6" textLength="86.3" lengthAdjust="spacingAndGlyphs" stroke="#fff" stroke-width="0.3" fill="#fff">0.00208</text>
</g>
<path d="M2152,845.3 H2260 Q2264,845.3 2264,849.3 V874.5999999999999 Q2264,878.5999999999999 2260,878.5999999999999 H2152 Z" fill="#ace5dc"/>
<text x="2167" y="871.1" textLength="86.3" lengthAdjust="spacingAndGlyphs" stroke="#131722" stroke-width="0.3">0.00096</text>
<text x="65.43" y="977" textLength="24.37" lengthAdjust="spacingAndGlyphs" stroke="#131722" stroke-width="0.3">11</text>
<text x="370.25" y="977" textLength="40.96" lengthAdjust="spacingAndGlyphs" stroke="#131722" stroke-width="0.3">Nov</text>
<text x="544.84" y="977" textLength="25.95" lengthAdjust="spacingAndGlyphs" stroke="#131722" stroke-width="0.3">13</text>
<text x="807.83" y="977" textLength="40.36" lengthAdjust="spacingAndGlyphs" stroke="#131722" stroke-width="0.3">Dec</text>
<text x="982.84" y="977" textLength="24.93" lengthAdjust="spacingAndGlyphs" stroke="#131722" stroke-width="0.3">12</text>
<text x="1259.81" y="977" textLength="53.99" lengthAdjust="spacingAndGlyphs" stroke="#131722" stroke-width="0.3" font-weight="bold">2025</text>
<text x="1440.81" y="977" textLength="25.80" lengthAdjust="spacingAndGlyphs" stroke="#131722" stroke-width="0.3">13</text>
<text x="1745.42" y="977" textLength="39.77" lengthAdjust="spacingAndGlyphs" stroke="#131722" stroke-width="0.3">Feb</text>
<text x="1919.85" y="977" textLength="24.34" lengthAdjust="spacingAndGlyphs" stroke="#131722" stroke-width="0.3">13</text>
<text x="35.2" y="59.1" textLength="99.8" lengthAdjust="spacingAndGlyphs" stroke="#131722" stroke-width="0.3">AUD/USD</text>
<text x="141.6" y="59.1" textLength="55.3" lengthAdjust="spacingAndGlyphs" stroke="#131722" stroke-width="0.3">Spot,</text>
<text x="205.5" y="59.1" textLength="27.3" lengthAdjust="spacingAndGlyphs" stroke="#131722" stroke-width="0.3">1D</text>
<text x="246.9" y="59.1" textLength="16.8" lengthAdjust="spacingAndGlyphs" stroke="#131722" stroke-width="0.3">O</text>
<text x="362.6" y="59.1" textLength="15.0" lengthAdjust="spacingAndGlyphs" stroke="#131722" stroke-width="0.3">H</text>
<text x="477.2" y="59.1" textLength="12.3" lengthAdjust="spacingAndGlyphs" stroke="#131722" stroke-width="0.3">L</text>
<text x="586.6" y="59.1" textLength="15.3" lengthAdjust="spacingAndGlyphs" stroke="#131722" stroke-width="0.3">C</text>
<text x="262.7" y="59.1" textLength="85.0" lengthAdjust="spacingAndGlyphs" stroke="#089981" stroke-width="0.3" fill="#089981">0.63559</text>
<text x="377.2" y="59.1" textLength="85.2" lengthAdjust="spacingAndGlyphs" stroke="#089981" stroke-width="0.3" fill="#089981">0.63923</text>
<text x="488.8" y="59.1" textLength="84.8" lengthAdjust="spacingAndGlyphs" stroke="#089981" stroke-width="0.3" fill="#089981">0.63559</text>
<text x="600.9" y="59.1" textLength="85.9" lengthAdjust="spacingAndGlyphs" stroke="#089981" stroke-width="0.3" fill="#089981">0.63697</text>
<text x="700.8" y="59.1" textLength="96.8" lengthAdjust="spacingAndGlyphs" stroke="#089981" stroke-width="0.3" fill="#089981">+0.00117</text>
<text x="806.2" y="59.1" textLength="90.2" lengthAdjust="spacingAndGlyphs" stroke="#089981" stroke-width="0.3" fill="#089981">(+0.18%)</text>
<text x="35.2" y="93.2" textLength="32.9" lengthAdjust="spacingAndGlyphs" stroke="#131722" stroke-width="0.3">MA</text>
<text x="75.7" y="93.2" textLength="54.3" lengthAdjust="spacingAndGlyphs" stroke="#131722" stroke-width="0.3">(100,</text>
<text x="136.6" y="93.2" textLength="62.3" lengthAdjust="spacingAndGlyphs" stroke="#131722" stroke-width="0.3">close,</text>
<text x="206.5" y="93.2" textLength="22.3" lengthAdjust="spacingAndGlyphs" stroke="#131722" stroke-width="0.3">0)</text>
<text x="242.9" y="93.2" textLength="84.9" lengthAdjust="spacingAndGlyphs" stroke="#2196f3" stroke-width="0.3" fill="#2196f3">0.64053</text>
<text x="35.7" y="721.2" textLength="31.7" lengthAdjust="spacingAndGlyphs" stroke="#131722" stroke-width="0.3">RSI</text>
<text x="76.1" y="721.2" textLength="42.1" lengthAdjust="spacingAndGlyphs" stroke="#131722" stroke-width="0.3">(14)</text>
<text x="132.3" y="721.2" textLength="59.7" lengthAdjust="spacingAndGlyphs" stroke="#9b59c6" stroke-width="0.3" fill="#9b59c6">60.45</text>
<text x="35.7" y="867.6" textLength="61.0" lengthAdjust="spacingAndGlyphs" stroke="#131722" stroke-width="0.3">MACD</text>
<text x="106.0" y="867.6" textLength="40.2" lengthAdjust="spacingAndGlyphs" stroke="#131722" stroke-width="0.3">(12,</text>
<text x="153.7" y="867.6" textLength="32.9" lengthAdjust="spacingAndGlyphs" stroke="#131722" stroke-width="0.3">26,</text>
<text x="194.6" y="867.6" textLength="62.3" lengthAdjust="spacingAndGlyphs" stroke="#131722" stroke-width="0.3">close,</text>
<text x="264.8" y="867.6" textLength="22.0" lengthAdjust="spacingAndGlyphs" stroke="#131722" stroke-width="0.3">9)</text>
<text x="300.8" y="867.6" textLength="85.4" lengthAdjust="spacingAndGlyphs" stroke="#ace5dc" stroke-width="0.3" fill="#ace5dc">0.00096</text>
<text x="399.8" y="867.6" textLength="85.4" lengthAdjust="spacingAndGlyphs" stroke="#2196f3" stroke-width="0.3" fill="#2196f3">0.00304</text>
<text x="497.8" y="867.6" textLength="85.4" lengthAdjust="spacingAndGlyphs" stroke="#ff6d00" stroke-width="0.3" fill="#ff6d00">0.00208</text>
<g fill="#131722">
<path d="M20,1020.2 H35.4 V1039.5 H27.3 V1028 H20 Z"/>
<circle cx="41.9" cy="1024.4" r="3.9"/>
<path d="M50.1,1020.2 H59.2 L51.4,1039.5 H42.3 Z"/>
</g>
<text x="66.4" y="1039.6" textLength="140" lengthAdjust="spacingAndGlyphs" stroke="#131722" stroke-width="0.3" font-size="26.5">TradingView</text>
</svg>
</body></html>
